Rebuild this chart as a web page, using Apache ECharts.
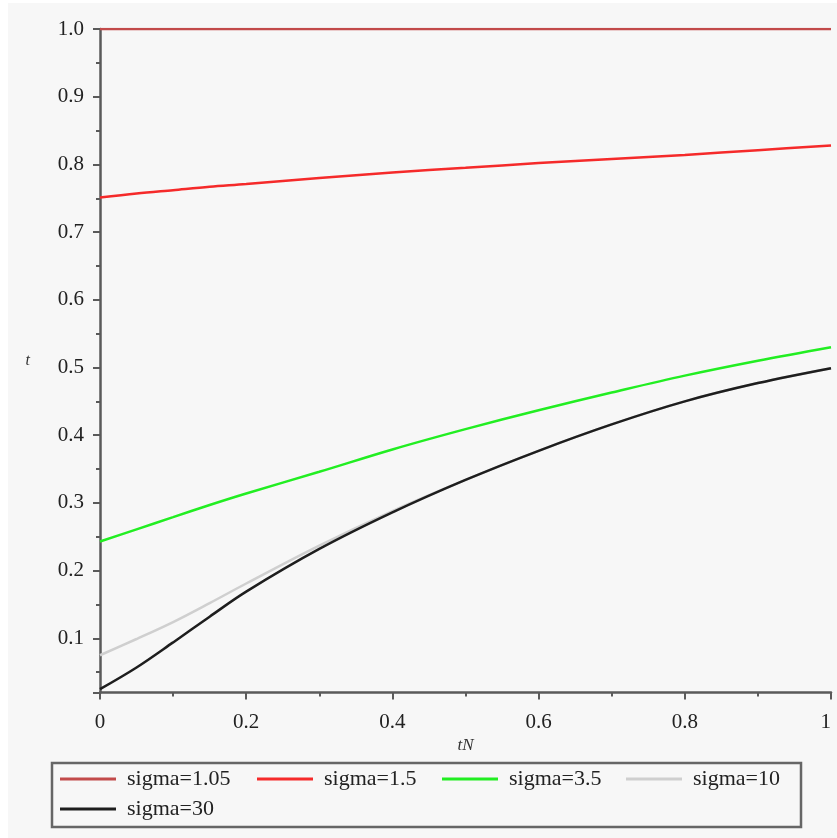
<!DOCTYPE html>
<html>
<head>
<meta charset="utf-8">
<script src="https://cdn.jsdelivr.net/npm/echarts@6/dist/echarts.min.js"></script>
<style>
  html, body { margin: 0; padding: 0; background: #ffffff; }
  #bg { position: absolute; left: 8px; top: 3px; width: 829px; height: 835px; background: #f7f7f7; }
  #chart { position: absolute; left: 0; top: 0; width: 837px; height: 838px; }
</style>
</head>
<body>
<div id="bg"></div>
<div id="chart"></div>
<script>
// tN values where the curves were read
var xs = [0, 0.05, 0.1, 0.15, 0.2, 0.3, 0.4, 0.5, 0.6, 0.7, 0.8, 0.9, 1.0];

var names = ['sigma=1.05', 'sigma=1.5', 'sigma=3.5', 'sigma=10', 'sigma=30'];
var colors = ['#c24a4a', '#f52a2a', '#22ee22', '#cfcfcf', '#1e1e1e'];

var sigma105 = [1, 1, 1, 1, 1, 1, 1, 1, 1, 1, 1, 1, 1];
var sigma15 = [0.751, 0.757, 0.762, 0.767, 0.771, 0.780, 0.788, 0.795, 0.802, 0.808, 0.814, 0.821, 0.828];
var sigma35 = [0.243, 0.261, 0.279, 0.297, 0.314, 0.346, 0.379, 0.409, 0.437, 0.463, 0.488, 0.510, 0.530];
var sigma10 = [0.075, 0.099, 0.124, 0.152, 0.181, 0.237, 0.288, 0.334, 0.377, 0.416, 0.450, 0.477, 0.499];
var sigma30 = [0.025, 0.057, 0.094, 0.132, 0.169, 0.232, 0.286, 0.334, 0.377, 0.416, 0.450, 0.477, 0.499];

var allSeries = [sigma105, sigma15, sigma35, sigma10, sigma30];

function pairs(ys) {
	var out = [];
	for (var i = 0; i < xs.length; i++) {
		out.push([xs[i], ys[i]]);
	}
	return out;
}

var serif = '"Liberation Serif", "DejaVu Serif", serif';
var axisColor = '#5a5a5a';

var series = [];
for (var i = 0; i < names.length; i++) {
	series.push({
		name: names[i],
		type: 'line',
		data: pairs(allSeries[i]),
		smooth: 0.35,
		showSymbol: false,
		symbol: 'none',
		lineStyle: { color: colors[i], width: 2.5 },
		itemStyle: { color: colors[i] },
		animation: false
	});
}

// one legend per item so each sits where the reference puts it
var legendPos = [[60, 768], [257, 768], [442, 768], [626, 768], [60, 798]];
var legends = [];
for (var i = 0; i < names.length; i++) {
	legends.push({
		data: [names[i]],
		left: legendPos[i][0],
		top: legendPos[i][1],
		padding: 0,
		itemWidth: 56,
		itemHeight: 24,
		icon: 'path://M0,10.5 L56,10.5 L56,13.5 L0,13.5 Z',
		selectedMode: false,
		textStyle: { fontFamily: serif, fontSize: 22, color: '#222', padding: [0, 0, 0, 6] }
	});
}

var chart = echarts.init(document.getElementById('chart'), null, { renderer: 'canvas' });
chart.setOption({
	backgroundColor: 'transparent',
	animation: false,
	grid: { left: 100, right: 6, top: 29, bottom: 145.5 },
	legend: legends,
	graphic: [{
		type: 'rect',
		shape: { x: 52, y: 763, width: 749, height: 64 },
		style: { fill: 'none', stroke: '#666', lineWidth: 2.5 },
		z: 0
	}],
	xAxis: {
		type: 'value',
		min: 0,
		max: 1,
		interval: 0.2,
		name: 'tN',
		nameLocation: 'middle',
		nameGap: 43,
		nameTextStyle: { fontFamily: serif, fontStyle: 'italic', fontSize: 17, color: '#333' },
		axisLine: { show: true, onZero: false, lineStyle: { color: axisColor, width: 2.5 } },
		axisTick: { show: true, inside: false, length: 7, lineStyle: { color: axisColor, width: 2 } },
		minorTick: { show: true, splitNumber: 2, length: 4, lineStyle: { color: axisColor, width: 2 } },
		axisLabel: { fontFamily: serif, fontSize: 21, color: '#222', margin: 19, alignMaxLabel: 'right' },
		splitLine: { show: false }
	},
	yAxis: {
		type: 'value',
		min: 0.02,
		max: 1.0,
		splitNumber: 10,
		name: 't',
		nameLocation: 'middle',
		nameRotate: 0,
		nameGap: 70,
		nameTextStyle: { fontFamily: serif, fontStyle: 'italic', fontSize: 16, color: '#333' },
		axisLine: { show: true, onZero: false, lineStyle: { color: axisColor, width: 2.5 } },
		axisTick: { show: true, inside: false, length: 7, lineStyle: { color: axisColor, width: 2 } },
		minorTick: { show: true, splitNumber: 2, length: 4, lineStyle: { color: axisColor, width: 2 } },
		axisLabel: {
			fontFamily: serif, fontSize: 21, color: '#222', margin: 16,
			showMinLabel: false,
			formatter: function (v) { return v.toFixed(1); }
		},
		splitLine: { show: false }
	},
	series: series
});
</script>
</body>
</html>
